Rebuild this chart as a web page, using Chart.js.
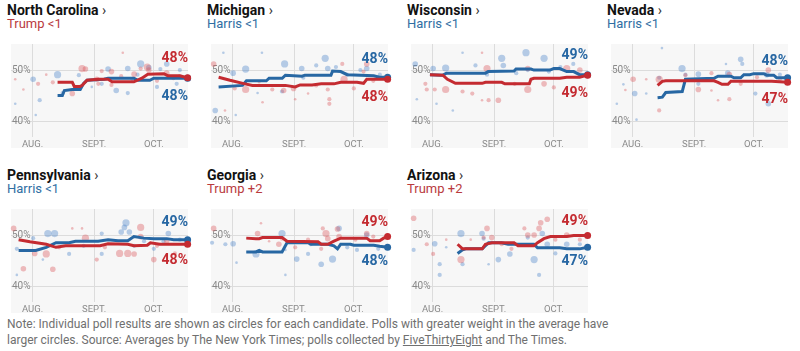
<!DOCTYPE html>
<html lang="en">
<head>
<meta charset="UTF-8">
<title>Battleground polling averages</title>
<script src="https://cdn.jsdelivr.net/npm/chart.js"></script>
<style>
  body { margin: 0; width: 800px; height: 351px; background: #fff; position: relative; overflow: hidden; font-family: Roboto, "Liberation Sans", sans-serif; }
  .panel { position: absolute; width: 195px; height: 160px; }
  .title { position: absolute; left: 7px; top: 2px; font-size: 14px; line-height: 16px; font-weight: bold; color: #121212; white-space: nowrap; }
  .title span { font-weight: normal; color: #333; }
  .lead { position: absolute; left: 7px; top: 16px; font-size: 13px; line-height: 15px; white-space: nowrap; }
  .panel canvas { position: absolute; left: 7px; top: 37px; }
  .note { position: absolute; left: 7px; top: 316px; font-size: 12px; line-height: 16px; color: #707070; white-space: nowrap; }
</style>
</head>
<body>
<div id="panels"></div>
<div class="note">Note: Individual poll results are shown as circles for each candidate. Polls with greater weight in the average have<br>larger circles. Source: Averages by The New York Times; polls collected by <u>FiveThirtyEight</u> and The Times.</div>

<script>
// days counted from Aug. 1
const states = ['North Carolina', 'Michigan', 'Wisconsin', 'Nevada', 'Pennsylvania', 'Georgia', 'Arizona'];
const leaders = ['Trump <1', 'Harris <1', 'Harris <1', 'Harris <1', 'Harris <1', 'Trump +2', 'Trump +2'];
const trumpFinal = [48, 48, 49, 47, 48, 49, 49];
const harrisFinal = [48, 48, 49, 48, 49, 48, 47];
const monthDays = [0, 31, 61];
const monthLabels = ['AUG.', 'SEPT.', 'OCT.'];
const gridValues = [40, 50];

// averages: [day, pct]
const ncTrump = [[12.6,47.7],[20,47.7],[21,46.9],[24,46.9],[25,47.1],[27.4,48.1],[33,48.3],[38,48.3],[40,47.8],[51,47.8],[55,48.5],[58,49.3],[66,49.4],[68,49.0],[74,49.0],[78,48.6]];
const ncHarris = [[12.6,45.1],[15,45.1],[16,46.1],[20,46.3],[24,46.3],[25.7,47.5],[27.4,48.1],[36,48.3],[38,48.5],[51,48.5],[53,48.1],[59,48.1],[61,48.5],[78,48.5]];
const miTrump = [[-7,48.7],[-1.3,48.1],[5.2,47.5],[10,47.1],[26.6,47.1],[31.5,46.8],[34,47.2],[40,47.2],[44.6,47.4],[51,47.4],[54.4,47.7],[62.6,47.7],[65.9,47.5],[67.5,48.3],[78,48.3]];
const miHarris = [[-7,46.8],[5,47.1],[7,48],[17,48],[18.4,48.5],[25,48.5],[26.6,49.1],[35,48.9],[36.4,49.1],[49.5,49.1],[50.3,49.9],[54.4,49.8],[57.7,49.2],[71,49],[74,48.7],[78,48.7]];
const wiTrump = [[-1.3,49.2],[5.2,49.1],[7.5,48.3],[11.5,47.5],[25,47.5],[26.6,47.7],[34.8,47.7],[36.4,47.4],[48.7,47.4],[49.5,48.3],[51,48.5],[64,48.5],[67.5,48.7],[74,48.7],[78,49.1]];
const wiHarris = [[-1.3,49.2],[5.2,49.1],[7,49.5],[26.6,49.5],[28,49.8],[41,49.9],[42,50.3],[49.5,50.3],[51,50.1],[59,50.1],[61,50.4],[64,50.4],[67.5,49.8],[71,49.8],[74,49.2],[78,49.2]];
const nvTrump = [[12.6,47.1],[15,47.9],[16.7,48],[41,48],[43,47.7],[45,47.3],[48,47.3],[49.5,47.9],[70,47.9],[78,47.7]];
const nvHarris = [[12.6,44.7],[15,44.8],[16.7,45.7],[25,45.9],[26.6,48.3],[41,48.5],[43,48.9],[49.5,48.9],[51,48.6],[54.4,48.6],[56,49.2],[59,49.2],[61,49.4],[66,49.4],[67.5,49.1],[71,49.1],[72.5,48.6],[78,48.6]];
const paTrump = [[-7,49.2],[-1.3,48.8],[6.9,48.3],[11.8,47.7],[16.7,48],[34,48],[38,48.4],[47.9,48.3],[51,48],[57.7,48.1],[59.3,48.6],[64,48.3],[78,48.3]];
const paHarris = [[-7,47.1],[1.6,47.1],[6.9,47.7],[11.8,48.6],[18.4,48.6],[21.6,48.9],[33,48.9],[38,49.2],[43,49],[47.9,49],[51,49.8],[56,49.5],[61,49.4],[67.5,49.4],[71,49.2],[78,49.2]];
const gaTrump = [[6.9,49.5],[11.8,49.4],[13.4,49.4],[15.1,49.6],[24.9,49.6],[27.4,48.9],[43,48.8],[44.6,48.3],[47.9,48.3],[51,48.9],[54.4,49.5],[67.5,49.5],[69.2,49],[74,49],[76,49.5],[78,49.8]];
const gaHarris = [[6.9,46.8],[11.8,46.8],[13.4,47.1],[15.1,46.8],[24.9,46.8],[27.4,48.6],[38,48.6],[39.5,48.3],[48,48.3],[51,48],[52.8,47.4],[54.4,48.3],[59.3,48.3],[61,48.1],[71,48.1],[74,47.9],[78,47.7]];
const azTrump = [[12.6,48.3],[15.1,47.4],[25,47.4],[26.6,48.3],[29.8,48.6],[41,48.6],[43,48],[51,48],[52.8,48.6],[56,49.4],[59.3,49.8],[67.5,49.8],[71,50],[78,50]];
const azHarris = [[12.6,46.5],[15.1,47.2],[16.7,47.4],[25,47.4],[28.2,48.6],[34.8,48.6],[38,48.3],[51,48.3],[52.8,47.6],[59.3,47.6],[64,47.6],[67.5,47.4],[74,47.4],[78,47.7]];

// polls: [day, pct, weight]
const ncTrumpPolls = [[24.9,50.4,5],[26.6,50.3,4],[2.8,47.4,3],[6.9,49.2,2],[20,45.5,4],[32.3,48.3,4],[34.8,49.9,3],[39.7,49.8,4],[39.7,47.2,3],[45.4,53.5,2],[51.1,49.3,4],[57.7,50.7,5],[58.5,50.1,4],[62.6,48,3],[67.5,49.5,4],[70.8,48.5,3],[-4.6,46.3,2],[-8.7,48.3,2],[10.2,47.7,3],[33.1,47.4,3],[44.6,48.9,3],[54.4,50.4,3],[74.1,48.9,3]];
const ncHarrisPolls = [[0.3,48.3,4],[12.6,49.2,5],[15.1,45.6,3],[3.6,44.2,3],[23.3,49.1,3],[38,50.3,4],[42.1,46.1,4],[47.9,50.4,4],[54.4,51.3,5],[52.8,49.2,3],[58.5,50.6,4],[64.3,50.3,3],[67.5,51.3,4],[74.1,50.1,3],[34.8,47.4,3],[47.9,45.6,3],[50.3,48.3,3],[62.6,46.8,3],[72.5,47.4,3],[1.6,41.3,2],[-8.7,43.5,2],[29.8,46.8,2]];
const miTrumpPolls = [[-9.5,51.3,4],[1.1,46.5,3],[6.6,46.3,5],[13.4,47.7,2],[20,46.3,3],[25.7,46.1,4],[30.7,46.5,4],[31.5,44.4,2],[38,45.5,2],[42.1,47.1,3],[47.9,46.3,3],[48.7,44.4,3],[48.7,43.5,3],[55.2,51.3,3],[56.1,48.3,5],[61,46.5,3],[65.9,49.8,3],[67.5,51.3,4],[70.8,48,3],[-3.8,42.2,2],[15.1,43.8,2]];
const miHarrisPolls = [[-8.7,42.2,4],[-4.6,53.5,2],[0.3,49.5,4],[6.6,50.3,5],[14.8,53.5,2],[26.2,51.3,5],[34.8,50.4,4],[35.6,48.6,3],[42.1,51,3],[46.6,52.4,5],[47.9,50.4,4],[52,50.7,3],[57.7,49.2,3],[64.3,50.1,3],[67.5,50.4,4],[74.1,49.2,3],[1.6,41.3,2],[12.6,45.6,2],[24.9,45.9,3]];
const wiTrumpPolls = [[-3.6,47.4,3],[-2.9,46.3,3],[1.1,46.3,3],[6.6,46.3,5],[15.1,45.9,3],[20,45.5,3],[24.9,53.5,2],[27.4,50.4,5],[28.2,44.2,3],[33.1,44.2,4],[41.3,47.4,3],[47.9,46.3,5],[47.9,50.4,4],[56.1,47.4,4],[61,46.7,3],[67.5,50.4,5],[74.1,50.1,4],[24.9,44.2,2]];
const wiHarrisPolls = [[-8.7,51.3,4],[0.3,50.4,4],[6.6,50.5,5],[15.1,53.5,2],[21.6,51,3],[27.4,49.2,3],[34.8,52.4,5],[35.6,51,4],[42.1,49.5,3],[47,53.5,5],[47.9,50.1,3],[56.1,52.4,5],[58.5,49.8,3],[64.3,50.7,3],[70.8,51.3,3],[-7.9,44.4,2],[2,43.5,2],[10.2,42.2,2]];
const nvTrumpPolls = [[0.3,48.3,4],[6.9,48.3,2],[-3.6,46.2,2],[13.4,48.3,5],[13.4,42.2,3],[26.6,49.1,3],[33.1,46.3,4],[39.7,46.1,2],[43,44.2,2],[48.7,49.2,4],[48.7,44.4,3],[54.4,47.4,3],[62.6,48.7,3],[68.3,50.1,4],[74.1,48.3,3],[39.7,49.5,3]];
const nvHarrisPolls = [[-4.6,47.3,2],[1.1,45.5,4],[6.9,45.5,2],[13.4,48.6,3],[14.8,54.4,2],[24.9,50.4,5],[26.6,49.2,3],[33.1,49.3,4],[33.1,47.4,3],[47,51.3,2],[47.9,49.5,4],[54.4,52.2,4],[55.2,51.3,3],[61.8,45.5,3],[67.5,49.2,4],[68.3,43.5,4],[74.1,49.2,3],[-7.9,43.5,2],[2,40.4,2]];
const paTrumpPolls = [[-9.5,51.4,4],[-4.6,43.5,4],[1.1,46.5,4],[6.9,46.4,5],[10.2,43.4,4],[13.4,47.7,3],[20,51.4,2],[24.9,51.4,2],[26.6,49.5,5],[32.3,45.3,3],[36.4,47.7,3],[43.8,46.5,5],[47.9,46.5,5],[51.1,46.4,4],[54.4,51.6,5],[54.4,49.8,4],[61,45.3,4],[62.6,48,3],[67.5,49,4],[71.6,46.5,3]];
const paHarrisPolls = [[-7.9,47.4,3],[0.3,49.5,3],[7.7,50.4,5],[11.1,50.4,5],[18.4,46.4,3],[25.7,48,3],[34.8,50.4,3],[34.8,46.4,3],[44.6,50.7,4],[46.2,51.6,4],[47,52.5,5],[48.7,50.7,4],[51.1,48,3],[56.1,48.9,3],[61,47.4,3],[65.9,48.9,3],[68.3,50.4,4],[74.1,49.2,3],[-7.9,42.3,2],[5.2,45.3,2]];
const gaTrumpPolls = [[-9.5,51.4,4],[12.6,50.4,4],[14.3,52.4,2],[23.3,48.3,4],[24.9,49.4,3],[31.5,47.7,3],[38,49.2,3],[45.4,51.4,3],[47,50.4,5],[47.9,49.4,4],[44.6,47.4,3],[52.8,51.3,4],[53.6,49.8,4],[61.8,49.2,3],[67.5,50.4,4],[70.8,49.8,3],[18.4,48.9,2]];
const gaHarrisPolls = [[-10.3,48.6,3],[-3.6,48.3,3],[0.3,48.4,4],[2,44.7,2],[11.8,46.4,5],[24.9,50.4,5],[26.6,47.2,2],[32.3,45.4,4],[38,46.4,3],[39.3,48.3,3],[44.6,44.4,4],[50.3,45.4,5],[53.6,51.4,4],[57.7,47.7,3],[62.6,47.2,3],[67.5,50.1,4],[73.3,47.4,3],[26.6,42.3,2]];
const azTrumpPolls = [[-9.5,53.4,4],[-2.9,48.3,3],[0.3,46.4,3],[6.9,49.2,2],[14.3,45.3,5],[19.2,49.2,2],[25.7,49.6,3],[27.4,51.4,4],[29.8,49.6,4],[34.8,48.3,3],[39.7,47.4,3],[46.2,51.4,3],[47.9,50.1,4],[51.1,50.1,4],[53.6,51.4,4],[54.4,52.5,4],[57.7,53.2,4],[61.8,49.2,3],[67.5,50.1,4],[74.1,49.2,3]];
const azHarrisPolls = [[-9.5,47.2,3],[1.1,48.4,4],[3.6,44.4,3],[3.6,42.3,3],[6.9,47.7,2],[14.3,50.4,5],[15.1,44.4,3],[24.9,50.4,4],[25.7,49.4,3],[28.2,44.4,2],[33.1,45.3,4],[38.9,46.4,4],[47.9,49.6,3],[51.1,45.3,5],[53.6,42.3,3],[55.2,50.4,4],[57.7,48.3,4],[61.8,46.5,3],[67.5,48.3,4],[74.1,48.3,3]];

const trumpAvgs = [ncTrump, miTrump, wiTrump, nvTrump, paTrump, gaTrump, azTrump];
const harrisAvgs = [ncHarris, miHarris, wiHarris, nvHarris, paHarris, gaHarris, azHarris];
const trumpPolls = [ncTrumpPolls, miTrumpPolls, wiTrumpPolls, nvTrumpPolls, paTrumpPolls, gaTrumpPolls, azTrumpPolls];
const harrisPolls = [ncHarrisPolls, miHarrisPolls, wiHarrisPolls, nvHarrisPolls, paHarrisPolls, gaHarrisPolls, azHarrisPolls];

const RED = '#c42b31';
const BLUE = '#2767a3';
const weightRadius = [0, 0, 1.3, 2.1, 2.8, 3.6];

Chart.defaults.font.family = 'Roboto, "Liberation Sans", sans-serif';

const bgPlugin = {
    id: 'bg',
    beforeDraw(chart) {
        const { ctx, chartArea: a } = chart;
        ctx.save();
        ctx.fillStyle = '#f7f7f7';
        ctx.fillRect(a.left, a.top, a.right - a.left, a.bottom - a.top + 11);
        ctx.restore();
    }
};

// final values written next to the end of each line, higher one on top
const endLabels = {
    id: 'endLabels',
    afterDatasetsDraw(chart, args, opts) {
        const { ctx, chartArea: a } = chart;
        const lastY = i => { const d = chart.getDatasetMeta(i).data; return d[d.length - 1].y; };
        const items = [
            { y: lastY(0), text: opts.trump + '%', color: RED },
            { y: lastY(1), text: opts.harris + '%', color: BLUE }
        ].sort((p, q) => p.y - q.y);
        let top = items[0].y - 14, bot = items[1].y + 14;
        if (bot - top < 38) {
            const mid = (items[0].y + items[1].y) / 2;
            top = mid - 19; bot = mid + 19;
        }
        ctx.save();
        ctx.font = 'bold 14px Roboto, "Liberation Sans", sans-serif';
        ctx.textAlign = 'right';
        ctx.textBaseline = 'middle';
        ctx.fillStyle = items[0].color;
        ctx.fillText(items[0].text, a.right, top);
        ctx.fillStyle = items[1].color;
        ctx.fillText(items[1].text, a.right, bot);
        ctx.restore();
    }
};

function lineSet(points, color, order) {
    const last = points.length - 1;
    return {
        type: 'line',
        data: points.map(p => ({ x: p[0], y: p[1] })),
        borderColor: color,
        borderWidth: 3,
        pointRadius: ctx => ctx.dataIndex === last ? 3.5 : 0,
        pointBackgroundColor: color,
        pointBorderWidth: 0,
        tension: 0,
        clip: false,
        order: order
    };
}

function pollSet(points, color) {
    return {
        type: 'bubble',
        data: points.map(p => ({ x: p[0], y: p[1], r: weightRadius[p[2]] })),
        backgroundColor: color,
        borderWidth: 0,
        clip: false,
        order: 5
    };
}

const host = document.getElementById('panels');
states.forEach((name, i) => {
    const col = i % 4, row = Math.floor(i / 4);
    const panel = document.createElement('div');
    panel.className = 'panel';
    panel.style.left = (col * 200) + 'px';
    panel.style.top = (row * 165) + 'px';
    const leadColor = leaders[i].startsWith('Trump') ? '#b93a3e' : '#2f6ea3';
    panel.innerHTML = `<div class="title">${name} <span>›</span></div>` +
        `<div class="lead" style="color:${leadColor}">${leaders[i]}</div>`;
    const canvas = document.createElement('canvas');
    canvas.width = 186;
    canvas.height = 113;
    panel.appendChild(canvas);
    host.appendChild(panel);

    new Chart(canvas, {
        type: 'line',
        data: {
            datasets: [
                lineSet(trumpAvgs[i], RED, 0),
                lineSet(harrisAvgs[i], BLUE, 1),
                pollSet(trumpPolls[i], 'rgba(218, 85, 90, 0.38)'),
                pollSet(harrisPolls[i], 'rgba(70, 130, 200, 0.38)')
            ]
        },
        options: {
            responsive: false,
            animation: false,
            layout: { padding: { right: 5 } },
            plugins: {
                legend: { display: false },
                tooltip: { enabled: false },
                endLabels: { trump: trumpFinal[i], harris: harrisFinal[i] }
            },
            scales: {
                x: {
                    type: 'linear',
                    min: -10.83,
                    max: 78.2,
                    afterBuildTicks: s => { s.ticks = monthDays.map(v => ({ value: v })); },
                    afterFit: s => { s.height = 13; },
                    grid: { color: '#dcdcdc', drawTicks: false },
                    border: { display: false },
                    ticks: {
                        padding: 2,
                        maxRotation: 0,
                        color: '#8a8a8a',
                        font: { size: 9.5 },
                        callback: v => monthLabels[monthDays.indexOf(v)]
                    }
                },
                y: {
                    min: 37,
                    max: 55.2,
                    afterBuildTicks: s => { s.ticks = gridValues.map(v => ({ value: v })); },
                    afterFit: s => { s.width = 0; },
                    grid: { color: '#dcdcdc', drawTicks: false },
                    border: { display: false },
                    ticks: {
                        mirror: true,
                        padding: 1,
                        color: '#8a8a8a',
                        font: { size: 10 },
                        callback: v => v + '%'
                    }
                }
            }
        },
        plugins: [bgPlugin, endLabels]
    });
});
</script>
</body>
</html>
